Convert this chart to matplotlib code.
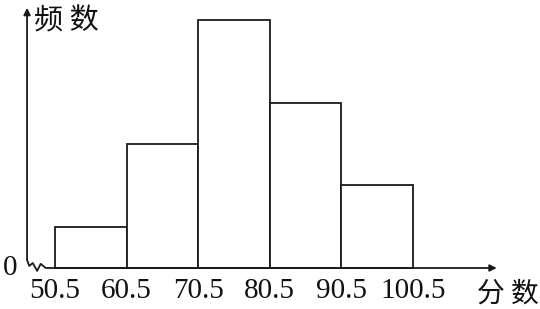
import matplotlib
matplotlib.use("Agg")
import matplotlib.pyplot as plt

# histogram data (heights in relative units, no y ticks)
edges = [50.5, 60.5, 70.5, 80.5, 90.5, 100.5]
counts = [1, 3, 6, 4, 2]
tick_labels = ["50.5", "60.5", "70.5", "80.5", "90.5", "100.5"]

cjk = ["Noto Sans CJK SC", "DejaVu Sans"]
serif = "Liberation Serif"

fig = plt.figure(figsize=(5.4, 3.09), dpi=100)
ax = fig.add_axes([0, 0, 1, 1])
ax.set_xlim(42.82, 118.24)
ax.set_ylim(-0.993, 6.49)
ax.axis("off")

lefts = edges[:-1]
widths = [edges[i + 1] - edges[i] for i in range(len(counts))]
ax.bar(lefts, counts, width=widths, align="edge", facecolor="white",
       edgecolor="#1a1a1a", linewidth=1.3)

# x axis with arrow
ax.annotate("", xy=(112.2, 0), xytext=(50.5, 0),
            arrowprops=dict(arrowstyle="-|>", color="#1a1a1a", lw=1.3,
                            mutation_scale=10, shrinkA=0, shrinkB=0))
# y axis with arrow
yx = 46.6
ax.annotate("", xy=(yx, 6.3), xytext=(yx, 0.2),
            arrowprops=dict(arrowstyle="-|>", color="#1a1a1a", lw=1.3,
                            mutation_scale=10, shrinkA=0, shrinkB=0))
# break squiggle between y axis and 50.5
zx = [yx, 46.9, 47.4, 48.0, 48.5, 49.2, 50.5]
zy = [0.2, 0.05, 0.12, -0.07, 0.1, 0.0, 0.0]
ax.plot(zx, zy, color="#1a1a1a", lw=1.3)

for e, lab in zip(edges, tick_labels):
    ax.text(e, -0.56, lab, ha="center", va="center", fontsize=21,
            family=serif, color="#111111")
ax.text(44.3, 0.0, "0", ha="center", va="center", fontsize=21,
        family=serif, color="#111111")
ax.text(47.6, 5.98, "频 数", ha="left", va="center", fontsize=21,
        family=cjk, color="#111111")
ax.text(109.5, -0.62, "分 数", ha="left", va="center", fontsize=20,
        family=cjk, color="#111111")

fig.savefig("out.png", dpi=100)
